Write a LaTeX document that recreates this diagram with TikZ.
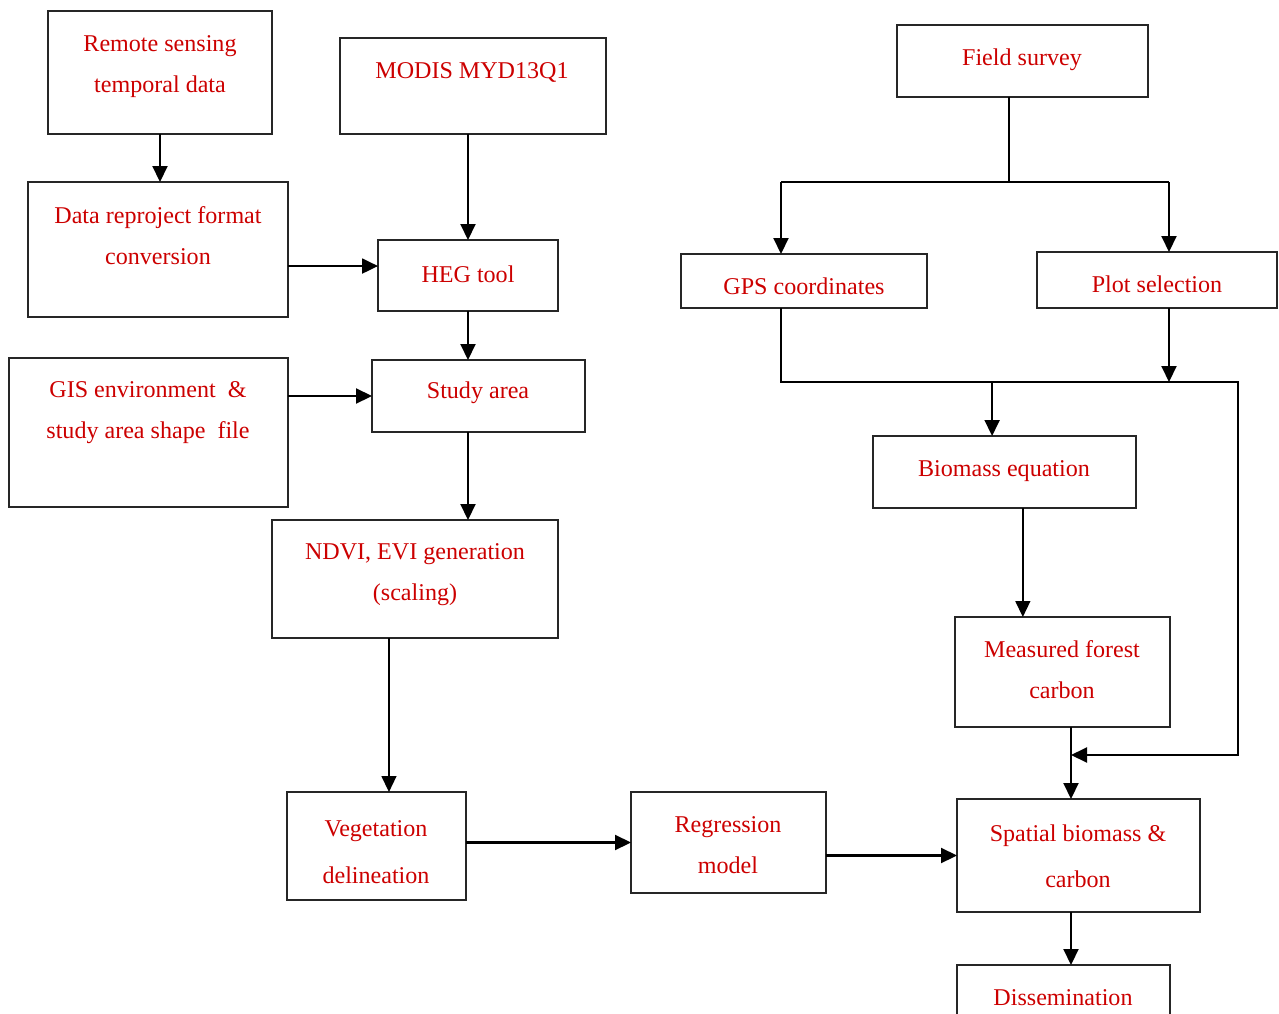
\documentclass[tikz,border=0pt]{standalone}
\usepackage{fontspec}
\setmainfont{Liberation Serif}
\usetikzlibrary{arrows.meta}
\definecolor{textred}{RGB}{204,0,0}

\begin{document}
\begin{tikzpicture}[x=0.02cm, y=-0.02cm,
		box/.style={draw=black!85, line width=0.85pt, inner sep=0pt, outer sep=0pt},
		txt/.style={text=textred, font=\fontsize{13.7pt}{23.3pt}\selectfont, align=center, inner sep=0pt},
		line/.style={line width=1.15pt},
		arr/.style={line width=1.15pt, -{Triangle[length=0.32cm, width=0.3cm]}},
		arrthin/.style={line width=0.8pt, -{Triangle[length=0.32cm, width=0.3cm]}}]
			%%%%% START %%%%%
			
			\useasboundingbox (0, 0) rectangle (1279, 1014);
			\clip (0, 0) rectangle (1279, 1014);
			
			% left column
			\node[box, minimum width=4.48cm, minimum height=2.46cm] (remote) at (160, 72.5) {};
			\node[txt] (remote-t) at (160, 66.5) {Remote sensing\\temporal data};
			
			\node[box, minimum width=5.32cm, minimum height=1.92cm] (modis) at (473, 86) {};
			\node[txt] (modis-t) at (472, 72) {MODIS MYD13Q1};
			
			\node[box, minimum width=5.20cm, minimum height=2.70cm] (reproj) at (158, 249.5) {};
			\node[txt] (reproj-t) at (158, 236) {Data reproject format\\conversion};
			
			\node[box, minimum width=3.60cm, minimum height=1.42cm] (heg) at (468, 275.5) {};
			\node[txt] (heg-t) at (468, 274) {HEG tool};
			
			\node[box, minimum width=5.58cm, minimum height=2.98cm] (gis) at (148.5, 432.5) {};
			\node[txt] (gis-t) at (148, 413) {GIS environment \ \&\\study area shape \ file};
			
			\node[box, minimum width=4.26cm, minimum height=1.44cm] (study) at (478.5, 396) {};
			\node[txt] (study-t) at (478, 393) {Study area};
			
			\node[box, minimum width=5.72cm, minimum height=2.36cm] (ndvi) at (415, 579) {};
			\node[txt] (ndvi-t) at (415, 574.5) {NDVI, EVI generation\\(scaling)};
			
			\node[box, minimum width=3.58cm, minimum height=2.16cm] (veg) at (376.5, 846) {};
			\node[txt] (veg-t) at (376, 852.5) {Vegetation\\[3.4pt]delineation};
			
			\node[box, minimum width=3.90cm, minimum height=2.02cm] (regr) at (728.5, 842.5) {};
			\node[txt] (regr-t) at (728, 845.5) {Regression\\model};
			
			% right column
			\node[box, minimum width=5.02cm, minimum height=1.44cm] (field) at (1022.5, 61) {};
			\node[txt] (field-t) at (1022, 60) {Field survey};
			
			\node[box, minimum width=4.92cm, minimum height=1.08cm] (gps) at (804, 281) {};
			\node[txt] (gps-t) at (804, 286) {GPS coordinates};
			
			\node[box, minimum width=4.80cm, minimum height=1.12cm] (plot) at (1157, 280) {};
			\node[txt] (plot-t) at (1157, 284) {Plot selection};
			
			\node[box, minimum width=5.26cm, minimum height=1.44cm] (biomass) at (1004.5, 472) {};
			\node[txt] (biomass-t) at (1004, 471) {Biomass equation};
			
			\node[box, minimum width=4.30cm, minimum height=2.20cm] (measured) at (1062.5, 672) {};
			\node[txt] (measured-t) at (1062, 670) {Measured forest\\carbon};
			
			\node[box, minimum width=4.86cm, minimum height=2.26cm] (spatial) at (1078.5, 855.5) {};
			\node[txt] (spatial-t) at (1078, 856) {Spatial biomass \&\\[2.8pt]carbon};
			
			\node[box, minimum width=4.26cm, minimum height=2.00cm] (dissem) at (1063.5, 1015) {};
			\node[txt] (dissem-t) at (1063, 998) {Dissemination};
			
			% junctions
			\coordinate (fs) at (1009, 182);
			\coordinate (fl) at (781, 182);
			\coordinate (fr) at (1169, 182);
			\coordinate (gl) at (781, 382);
			\coordinate (gr) at (1238, 382);
			\coordinate (mid) at (1071, 755);
			
			% left arrows
			\draw[arr] (remote.south) -- (remote.south |- reproj.north);
			\draw[arr] (heg.north |- modis.south) -- (heg.north);
			\draw[arr] (reproj.east |- heg.174) -- (heg.174);
			\draw[arr] (heg.south) -- (heg.south |- study.north);
			\draw[arr] (gis.east |- study.west) -- (study.west);
			\draw[arr] (study.south -| heg.south) -- (ndvi.north -| heg.south);
			\draw[arrthin] (veg.77 |- ndvi.south) -- (veg.77);
			\draw[arr] (veg.east |- regr.west) -- (regr.west);
			\draw[arr] (regr.east |- spatial.west) -- (spatial.west);
			
			% right arrows
			\draw[line] (fs |- field.south) -- (fs);
			\draw[line] (fl) -- (fr);
			\draw[arr] (fl) -- (fl |- gps.north);
			\draw[arr] (fr) -- (fr |- plot.north);
			\draw[arr] (gl |- gps.south) -- (gl) -- (gr) -- (gr |- mid) -- (mid);
			\draw[arr] (fr |- plot.south) -- (fr |- gl);
			\draw[arr] (biomass.109 |- gl) -- (biomass.109);
			\draw[arrthin] (biomass.-63) -- (biomass.-63 |- measured.north);
			\draw[arr] (measured.south -| mid) -- (spatial.north -| mid);
			\draw[arr] (spatial.south -| mid) -- (dissem.north -| mid);
			
			%%%%% END %%%%%
\end{tikzpicture}
\end{document}
